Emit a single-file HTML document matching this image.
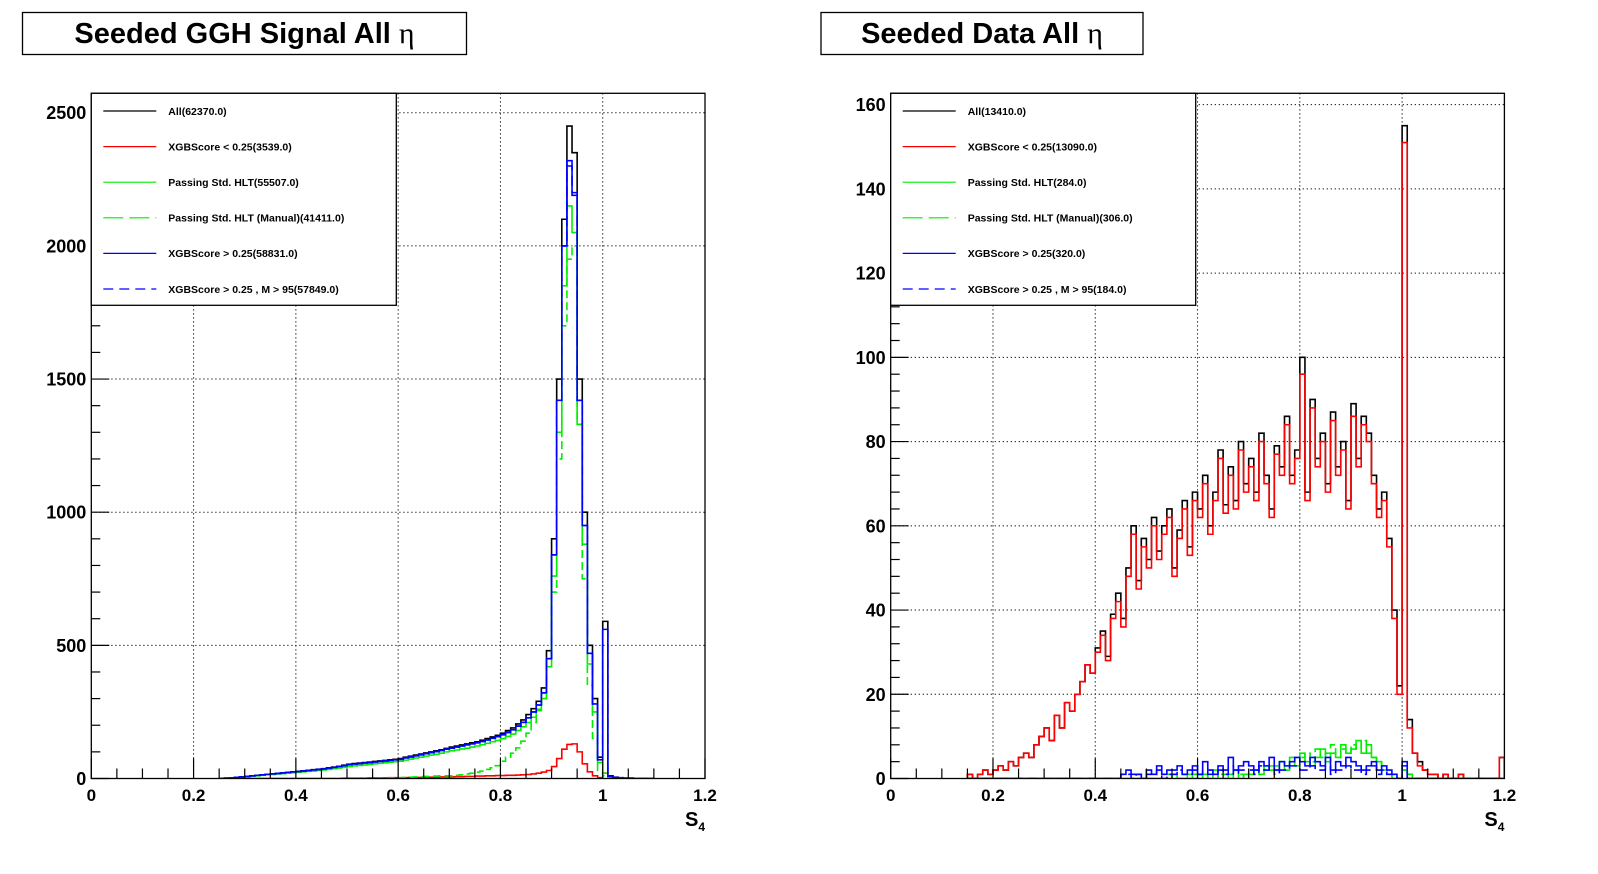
<!DOCTYPE html>
<html><head><meta charset="utf-8"><style>
html,body{margin:0;padding:0;background:#fff;}
svg{display:block;font-family:"Liberation Sans",sans-serif;}
</style></head><body>
<svg id="root" width="1598" height="874" viewBox="0 0 1598 874" xmlns="http://www.w3.org/2000/svg">
<rect x="0" y="0" width="1598" height="874" fill="#fff"/>
</svg>
<script>
// ---------- LEFT PANEL DATA (bins of 0.01 starting at 0.25) ----------
const leftStart = 0.25;
const leftBinW = 0.01;
const leftAll = [0,1,2,4,6, 8,10,12,14,16,17,19,21,23,25, 27,29,31,33,35,37,40,43,46,50, 54,56,58,60,62,64,66,68,70,72, 75,80,84,88,92,96,100,104,108,113, 118,122,126,130,134,138,144,150,156,162, 170,180,190,205,220,240,262,290,340,480, 900,1500,2100,2450,2350,1500,1000,500,300,80, 590,10,5,3,1,1,0,0,0,0];
const leftRed = [0,0,0,0,0, 0,0,0,0,0,0,0,0,0,0, 0,0,0,0,0,0,0,0,0,1, 1,1,1,1,2,2,2,2,3,3, 3,3,4,4,4,5,5,5,6,6, 6,7,7,8,8,9,9,10,10,11, 11,12,12,13,14,15,17,20,24,30, 45,75,110,128,130,100,55,25,10,3, 20,1,0,0,0,0,0,0,0,0];
const leftGreen = [0,1,2,3,5, 7,9,10,12,14,15,17,18,20,22, 23,25,27,28,30,32,34,37,39,42, 45,47,49,51,53,55,57,59,61,63, 65,69,73,77,80,84,88,91,95,100, 104,107,111,114,118,122,127,132,138,143, 150,158,167,180,194,210,230,255,300,420, 760,1300,1850,2150,2050,1330,880,430,250,60, 20,6,3,2,1,0,0,0,0,0];
const leftGreenManual = [0,0,0,0,0, 0,0,0,0,0,0,0,0,0,0, 0,0,0,0,0,0,0,0,0,0, 0,0,0,0,0,0,1,1,2,2, 3,4,5,6,7,8,8,9,10,10, 10,12,14,17,20,24,28,34,40,48, 65,80,95,115,140,170,210,260,320,450, 700,1200,1700,1950,2000,1350,750,350,150,30, 10,2,1,0,0,0,0,0,0,0];
const leftBlue = [0,1,2,4,6, 8,10,12,14,16,17,19,21,23,25, 26,28,30,32,34,36,39,42,45,48, 52,54,56,58,60,62,64,66,68,70, 72,77,81,85,89,93,97,101,105,110, 114,118,122,126,130,134,139,145,151,157, 164,173,183,197,211,228,250,276,322,450, 840,1420,2000,2320,2200,1420,950,470,280,70, 560,8,4,2,1,1,0,0,0,0];
const leftBlueM = [0,1,2,4,6, 8,10,12,14,16,17,19,21,23,25, 26,28,30,32,34,36,39,42,45,48, 52,54,56,58,60,62,64,66,68,70, 72,77,81,85,89,93,97,101,105,110, 114,118,122,126,130,134,139,145,151,157, 164,173,183,197,211,228,250,276,322,450, 840,1420,2000,2300,2190,1420,950,470,280,70, 560,8,4,2,1,1,0,0,0,0];
const leftYTicks = [0,500,1000,1500,2000,2500];
const leftLegend = ["All(62370.0)","XGBScore < 0.25(3539.0)","Passing Std. HLT(55507.0)","Passing Std. HLT (Manual)(41411.0)","XGBScore > 0.25(58831.0)","XGBScore > 0.25 , M > 95(57849.0)"];

// ---------- RIGHT PANEL DATA (bins of 0.01 starting at 0.15) ----------
const rightStart = 0.15;
const rightBinW = 0.01;
const rightAll = [1,0,1,2,1, 2,3,2,4,3,5,6,5,8,10, 12,9,15,12,18,16,20,23,27,25, 31,35,29,39,44,38,50,60,47,57, 52,62,54,60,64,50,59,66,55,68, 64,72,60,68,78,65,74,66,80,70, 76,68,82,72,64,79,74,86,72,78, 100,68,90,76,82,70,87,74,80,66, 89,76,86,82,72,64,68,57,40,22, 155, 14,6,4,2,1,1,0,1,0,0,1,0,0,0,0,0,0,0,5];
const rightRed = [1,0,1,2,1, 2,3,2,4,3,5,6,5,8,10, 12,9,15,12,18,16,20,23,27,25, 30,34,28,38,42,36,48,58,45,55, 50,60,52,58,62,48,57,64,53,66, 62,70,58,66,76,63,72,64,78,68, 74,66,80,70,62,77,72,84,70,76, 96,66,88,74,80,68,85,72,78,64, 86,74,84,80,70,62,66,55,38,20, 151, 12,6,3,2,1,1,0,1,0,0,1,0,0,0,0,0,0,0,5];
const rightGreen = [0,0,0,0,0, 0,0,0,0,0,0,0,0,0,0, 0,0,0,0,0,0,0,0,0,0, 0,0,0,0,0,0,0,0,0,0, 0,0,0,0,0,1,0,0,0,1, 0,1,0,2,0,0,1,2,0,1, 1,2,1,3,2,3,4,2,5,3, 6,4,3,5,7,4,6,5,8,6, 7,9,6,8,5,4,3,1,0,0, 2, 1,0,0,0,0,0,0,0,0,0,0,0,0,0,0,0,0,0,0];
const rightGreenManual = [0,0,0,0,0, 0,0,0,0,0,0,0,0,0,0, 0,0,0,0,0,0,0,0,0,0, 0,0,0,0,0,0,0,0,0,0, 0,0,0,0,1,0,0,0,1,0, 1,0,2,0,1,1,0,2,1,0, 2,1,3,2,3,2,4,3,4,5, 5,6,4,7,5,6,8,5,7,6, 8,7,9,6,5,4,2,1,0,0, 2, 0,0,0,0,0,0,0,0,0,0,0,0,0,0,0,0,0,0,0];
const rightBlue = [0,0,0,0,0, 0,0,0,0,0,0,0,0,0,0, 0,0,0,0,0,0,0,0,0,0, 0,0,0,0,0,1,2,1,1,0, 2,1,3,1,2,2,3,1,2,3, 1,4,2,1,3,2,5,2,3,4, 3,2,4,3,5,2,4,3,4,5, 4,3,5,4,3,5,2,4,3,5, 4,3,2,3,4,2,3,2,1,0, 4, 0,0,0,0,0,0,0,0,0,0,0,0,0,0,0,0,0,0,0];
const rightBlueM = [0,0,0,0,0, 0,0,0,0,0,0,0,0,0,0, 0,0,0,0,0,0,0,0,0,0, 0,0,0,0,0,1,1,0,1,0, 1,1,2,0,1,1,2,1,1,2, 1,2,1,1,2,1,3,1,2,2, 2,1,3,2,3,1,2,2,3,3, 2,2,3,2,2,3,1,2,2,3, 2,2,1,2,3,1,2,1,1,0, 3, 0,0,0,0,0,0,0,0,0,0,0,0,0,0,0,0,0,0,0];
const rightYTicks = [0,20,40,60,80,100,120,140,160];
const rightLegend = ["All(13410.0)","XGBScore < 0.25(13090.0)","Passing Std. HLT(284.0)","Passing Std. HLT (Manual)(306.0)","XGBScore > 0.25(320.0)","XGBScore > 0.25 , M > 95(184.0)"];

const xTicks = [0,0.2,0.4,0.6,0.8,1,1.2];
const xTickLabels = ["0","0.2","0.4","0.6","0.8","1","1.2"];

const NS = "http://www.w3.org/2000/svg";
const root = document.getElementById('root');
function mk(tag, attrs, parent){
  const e = document.createElementNS(NS, tag);
  for (const k in attrs) e.setAttribute(k, attrs[k]);
  (parent||root).appendChild(e);
  return e;
}

function panel(cfg){
  const g = mk('g', {});
  
  
  const L = cfg.left, R = cfg.left + 613.7, T = 93.3, B = 778.5;
  const xMax = 1.2;
  const X = v => L + (v / xMax) * (R - L);
  const Y = v => B - (v / cfg.yMax) * (B - T);

  // title box
  const tb = mk('rect', {x:cfg.titleX, y:12.5, width:cfg.titleW, height:42, fill:'#fff', stroke:'#000', 'stroke-width':1.3}, g);
  
  
  const tt = mk('text', {x:cfg.titleX + cfg.titleW/2, y:43, 'text-anchor':'middle', 'font-size':29, 'font-weight':'bold'}, g);
  tt.textContent = cfg.title + ' ';
  const eta = mk('tspan', {'font-family':'"Liberation Serif",serif', 'font-weight':'normal', 'font-size':30}, tt);
  eta.textContent = 'η';
  
  

  // grid
  const grid = mk('g', {stroke:'#000', 'stroke-width':1, 'stroke-dasharray':'1.2,2.8'}, g);
  
  
  xTicks.forEach(v => { if (v > 0 && v < xMax) mk('line', {x1:X(v), x2:X(v), y1:T, y2:B}, grid); });
  cfg.yTicks.forEach(v => { if (v > 0) mk('line', {x1:L, x2:R, y1:Y(v), y2:Y(v)}, grid); });

  // histograms
  const clipId = 'clip-' + cfg.name;
  const cp = mk('clipPath', {id:clipId}, g);
  mk('rect', {x:L, y:T, width:R-L, height:B-T}, cp);
  const hg = mk('g', {'clip-path':'url(#'+clipId+')', fill:'none'}, g);
  cfg.series.forEach(s => {
    let d = 'M' + X(cfg.start).toFixed(2) + ',' + Y(0).toFixed(2);
    s.values.forEach((v, i) => {
      d += 'V' + Y(v).toFixed(2) + 'H' + X(cfg.start + (i+1)*cfg.binW).toFixed(2);
    });
    d += 'V' + Y(0).toFixed(2);
    const p = mk('path', {d:d, stroke:s.color, 'stroke-width':1.6, 'stroke-linejoin':'miter'}, hg);
    if (s.dash) p.setAttribute('stroke-dasharray', s.dash);
    
    
  });

  // frame
  const fr = mk('rect', {x:L, y:T, width:R-L, height:B-T, fill:'none', stroke:'#000', 'stroke-width':1.3}, g);
  
  

  // x ticks
  const xa = mk('g', {stroke:'#000', 'stroke-width':1.2}, g);
  
  
  for (let k = 0; k <= 24; k++) {
    const v = k * 0.05;
    const len = (k % 4 === 0) ? 20 : 10;
    mk('line', {x1:X(v), x2:X(v), y1:B, y2:B-len}, xa);
  }
  xTicks.forEach((v, i) => {
    const t = mk('text', {x:X(v), y:801, 'text-anchor':'middle', 'font-size':17, 'font-weight':'bold', stroke:'none', fill:'#000'}, xa);
    t.textContent = xTickLabels[i];
    
    
  });
  const xt = mk('text', {x:R - 20, y:826, 'font-size':20, 'font-weight':'bold', fill:'#000', stroke:'none'}, xa);
  xt.textContent = 'S';
  const sub = mk('tspan', {'font-size':12, dy:5}, xt);
  sub.textContent = '4';
  
  

  // y ticks
  const ya = mk('g', {stroke:'#000', 'stroke-width':1.2}, g);
  
  
  const step = cfg.yTicks[1] - cfg.yTicks[0];
  const minor = step / 5;
  for (let v = 0; v <= cfg.yMax + 1e-9; v += minor) {
    const isMajor = Math.abs(v/step - Math.round(v/step)) < 1e-6;
    mk('line', {x1:L, x2:L + (isMajor ? 18 : 9), y1:Y(v), y2:Y(v)}, ya);
  }
  cfg.yTicks.forEach(v => {
    const t = mk('text', {x:L - 5, y:Y(v) + 6.5, 'text-anchor':'end', 'font-size':18, 'font-weight':'bold', stroke:'none', fill:'#000'}, ya);
    t.textContent = String(v);
    
    
  });

  // legend
  const lg = mk('g', {}, g);
  
  
  mk('rect', {x:L, y:T, width:305, height:212, fill:'#fff', stroke:'#000', 'stroke-width':1.3}, lg);
  cfg.series.forEach((s, i) => {
    const yy = 111 + i * 35.6;
    const e = mk('g', {}, lg);
    
    
    const ln = mk('line', {x1:L+12, x2:L+65, y1:yy, y2:yy, stroke:s.color, 'stroke-width':1.2}, e);
    if (s.dash) ln.setAttribute('stroke-dasharray', s.dash === '8,4' ? '20,6' : '10,6');
    const tx = mk('text', {x:L+77, y:yy+3.8, 'font-size':10.5, 'font-weight':'bold', fill:'#000'}, e);
    tx.textContent = cfg.legend[i];
  });
}

panel({
  name:'signal-panel', left:91.3, yMax:2573, yTicks:leftYTicks, start:leftStart, binW:leftBinW,
  title:'Seeded GGH Signal All', titleX:22.5, titleW:444, legend:leftLegend,
  series:[
    {id:'hist-all', values:leftAll, color:'#000'},
    {id:'hist-xgb-low', values:leftRed, color:'#ff0000'},
    {id:'hist-hlt', values:leftGreen, color:'#00ee00'},
    {id:'hist-hlt-manual', values:leftGreenManual, color:'#00ee00', dash:'8,4'},
    {id:'hist-xgb-high', values:leftBlue, color:'#0000ff'},
    {id:'hist-xgb-high-m95', values:leftBlueM, color:'#0000ff', dash:'10,5'}
  ]
});
panel({
  name:'data-panel', left:890.7, yMax:162.7, yTicks:rightYTicks, start:rightStart, binW:rightBinW,
  title:'Seeded Data All', titleX:821, titleW:322, legend:rightLegend,
  series:[
    {id:'hist-all', values:rightAll, color:'#000'},
    {id:'hist-xgb-low', values:rightRed, color:'#ff0000'},
    {id:'hist-hlt', values:rightGreen, color:'#00ee00'},
    {id:'hist-hlt-manual', values:rightGreenManual, color:'#00ee00', dash:'8,4'},
    {id:'hist-xgb-high', values:rightBlue, color:'#0000ff'},
    {id:'hist-xgb-high-m95', values:rightBlueM, color:'#0000ff', dash:'10,5'}
  ]
});
</script>
</body></html>
